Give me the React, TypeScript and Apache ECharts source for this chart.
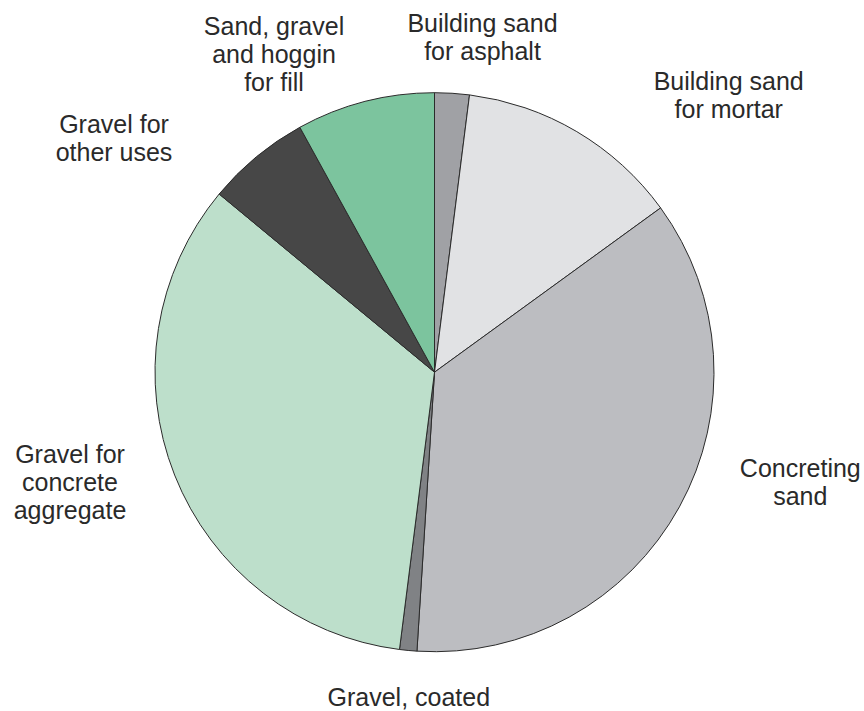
import React, { useEffect, useRef } from "react";
import * as echarts from "echarts";

// Slices clockwise from 12 o'clock (percent shares)
const categories = [
  "Building sand for asphalt",
  "Building sand for mortar",
  "Concreting sand",
  "Gravel, coated",
  "Gravel for concrete aggregate",
  "Gravel for other uses",
  "Sand, gravel and hoggin for fill",
];
const shares = [2, 13, 36, 1, 34, 6, 8];
const labelTexts = [
  "Building sand\nfor asphalt",
  "Building sand\nfor mortar",
  "Concreting\nsand",
  "Gravel, coated",
  "Gravel for\nconcrete\naggregate",
  "Gravel for\nother uses",
  "Sand, gravel\nand hoggin\nfor fill",
];
const sliceColors = [
  "#a0a1a5",
  "#e1e2e4",
  "#bcbdc1",
  "#808285",
  "#bddfcb",
  "#474747",
  "#7cc49e",
];
// label block centres (layout, in px)
const labelPositions: [number, number][] = [
  [482.5, 37],
  [728.7, 95],
  [800.3, 482],
  [408.8, 696.5],
  [70, 482],
  [114, 137.5],
  [274, 54],
];

export default function App() {
  const ref = useRef<HTMLDivElement>(null);
  useEffect(() => {
    if (!ref.current) return;
    const chart = echarts.init(ref.current, null, { renderer: "svg" });
    chart.setOption({
      animation: false,
      backgroundColor: "#ffffff",
      series: [
        {
          type: "pie",
          center: [434.5, 372.2],
          radius: 279.5,
          startAngle: 90,
          clockwise: true,
          avoidLabelOverlap: false,
          emphasis: { disabled: true },
          itemStyle: { borderColor: "#2b2b2b", borderWidth: 1 },
          data: categories.map((name, i) => ({
            name,
            value: shares[i],
            itemStyle: { color: sliceColors[i] },
          })),
          label: {
            show: true,
            position: "outside",
            formatter: (p: any) => labelTexts[p.dataIndex],
            fontFamily: "Liberation Sans, Arial, sans-serif",
            fontSize: 25,
            lineHeight: 28,
            color: "#2a2a2a",
            align: "center",
          },
          labelLine: { show: false },
          labelLayout: (p: any) => ({
            x: labelPositions[p.dataIndex][0],
            y: labelPositions[p.dataIndex][1],
            align: "center",
            verticalAlign: "middle",
          }),
        },
      ],
    });
    return () => chart.dispose();
  }, []);
  return (
    <div
      ref={ref}
      style={{ position: "fixed", left: 0, top: 0, width: 864, height: 711 }}
    />
  );
}
